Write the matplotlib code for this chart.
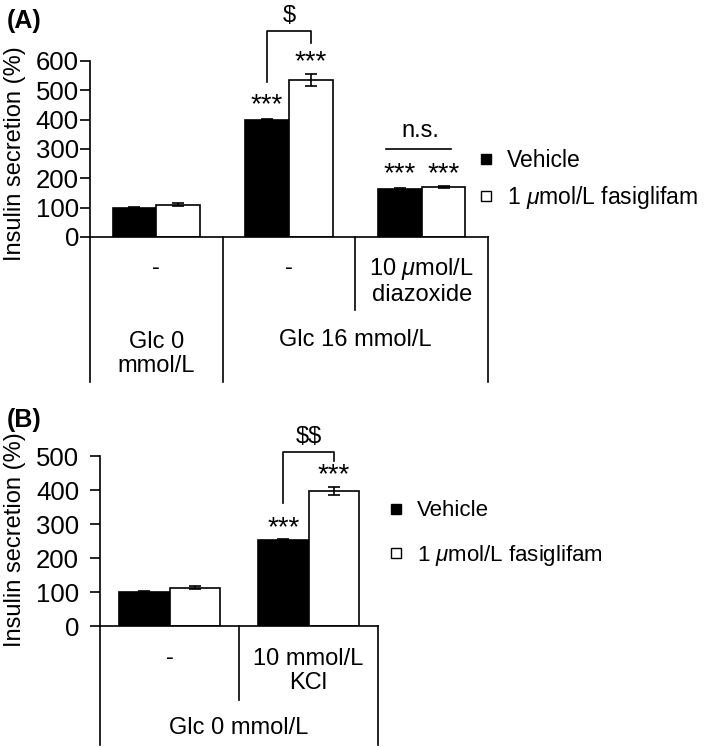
import matplotlib
matplotlib.use("Agg")
import matplotlib.pyplot as plt
from matplotlib.lines import Line2D

plt.rcParams['font.family'] = ['Liberation Sans', 'DejaVu Sans']
plt.rcParams['mathtext.fontset'] = 'custom'
plt.rcParams['mathtext.rm'] = 'Liberation Sans'
plt.rcParams['mathtext.it'] = 'Liberation Sans:italic'

# ---------------- data ----------------
a_groups = ["-", "-", "10 $\\mu$mol/L\ndiazoxide"]
a_vehicle = [100, 400, 165]
a_vehicle_err = [3, 2, 2]
a_fasi = [110, 535, 170]
a_fasi_err = [6, 19, 3]
a_stars_vehicle = ["", "***", "***"]
a_stars_fasi = ["", "***", "***"]
a_ticks = [0, 100, 200, 300, 400, 500, 600]

b_groups = ["-", "10 mmol/L\nKCl"]
b_vehicle = [100, 253]
b_vehicle_err = [3, 3]
b_fasi = [113, 397]
b_fasi_err = [5, 13]
b_stars_vehicle = ["", "***"]
b_stars_fasi = ["", "***"]
b_ticks = [0, 100, 200, 300, 400, 500]

legend_labels = ["Vehicle", "1 $\\mu$mol/L fasiglifam"]
ylabel = "Insulin secretion (%)"

W, H = 709, 747
fig = plt.figure(figsize=(W / 100, H / 100), dpi=100)


def px_axes(left, right, top, bottom):
    return fig.add_axes([left / W, 1 - bottom / H, (right - left) / W, (bottom - top) / H])


LW = 1.2
FS = 17
TFS = 18.5
SFS = 20


def style_axes(ax, ticks, ylim, n):
    ax.set_ylim(*ylim)
    ax.set_xlim(-0.5, n - 0.5)
    ax.set_yticks(ticks)
    ax.set_xticks([])
    for s in ["top", "right"]:
        ax.spines[s].set_visible(False)
    for s in ["left", "bottom"]:
        ax.spines[s].set_linewidth(LW)
    ax.tick_params(axis='y', length=7, width=LW, labelsize=TFS, pad=1)


def bars(ax, veh, veh_err, fas, fas_err, width):
    x = list(range(len(veh)))
    xv = [i - width / 2 for i in x]
    xf = [i + width / 2 for i in x]
    ax.bar(xv, veh, width, color='black', edgecolor='black', linewidth=LW,
           yerr=veh_err, error_kw=dict(ecolor='black', capsize=4, elinewidth=LW, capthick=LW))
    ax.bar(xf, fas, width, color='white', edgecolor='black', linewidth=LW,
           yerr=fas_err, error_kw=dict(ecolor='black', capsize=4, elinewidth=LW, capthick=LW))
    return xv, xf


def stars(ax, xs, vals, errs, labels, off):
    for xi, v, e, s in zip(xs, vals, errs, labels):
        if s:
            ax.annotate(s, xy=(xi, v + e), xytext=(0, off), textcoords='offset points',
                        ha='center', va='center', fontsize=SFS, annotation_clip=False)


# ---------------- Panel A ----------------
axA = px_axes(90, 488, 61, 237)
style_axes(axA, a_ticks, (0, 600), 3)
wA = 0.33
xvA, xfA = bars(axA, a_vehicle, a_vehicle_err, a_fasi, a_fasi_err, wA)
stars(axA, xvA, a_vehicle, a_vehicle_err, a_stars_vehicle, 10)
stars(axA, xfA, a_fasi, a_fasi_err, a_stars_fasi, 9)

# significance bracket "$"
axA.plot([xvA[1], xvA[1], xfA[1], xfA[1]], [528, 702, 702, 661], color='black',
         lw=LW, clip_on=False)
axA.text((xvA[1] + xfA[1]) / 2, 754, r"\$", ha='center', va='center', fontsize=FS)
# n.s. line
axA.plot([xvA[2] - 0.105, xfA[2] + 0.055], [300, 300], color='black', lw=LW, clip_on=False)
axA.text((xvA[2] + xfA[2]) / 2 - 0.01, 360, "n.s.", ha='center', va='center', fontsize=FS)

trA = axA.get_xaxis_transform()
hA = 176.0
for xl, depth in [(-0.5, 145), (0.5, 145), (1.5, 73), (2.5, 145)]:
    axA.plot([xl, xl], [0, -depth / hA], color='black', lw=LW, transform=trA, clip_on=False)
for i, g in enumerate(a_groups):
    yc = -31 / hA if g == "-" else -(281 - 237) / hA
    axA.text(i, yc, g, transform=trA, ha='center', va='center', fontsize=FS,
             linespacing=1.1)
axA.text(0, -(354 - 237) / hA, "Glc 0\nmmol/L", transform=trA, ha='center', va='center',
         fontsize=FS, linespacing=1.1)
axA.text(1.5, -(340 - 237) / hA, "Glc 16 mmol/L", transform=trA, ha='center', va='center',
         fontsize=FS)

axA.set_ylabel(ylabel, fontsize=17)
axA.yaxis.set_label_coords((26 - 90) / 398, (237 - 154) / hA)

handles = [Line2D([], [], marker='s', linestyle='none', markersize=7,
                  markerfacecolor='black', markeredgecolor='black', markeredgewidth=1.0),
           Line2D([], [], marker='s', linestyle='none', markersize=7,
                  markerfacecolor='white', markeredgecolor='black', markeredgewidth=1.0)]
fig.legend(handles, legend_labels, loc='center left', frameon=False, fontsize=16.5,
           bbox_to_anchor=(478 / W, 1 - 180 / H), handlelength=0.7, handletextpad=0.55,
           labelspacing=0.5, borderpad=0, borderaxespad=0)

fig.text(7 / W, 1 - 21 / H, "(A)", fontsize=18, fontweight='bold', ha='left', va='center')

# ---------------- Panel B ----------------
axB = px_axes(100, 378, 456, 626)
style_axes(axB, b_ticks, (0, 500), 2)
axB.tick_params(axis='y', pad=8)
wB = 0.36
xvB, xfB = bars(axB, b_vehicle, b_vehicle_err, b_fasi, b_fasi_err, wB)
stars(axB, xvB, b_vehicle, b_vehicle_err, b_stars_vehicle, 8)
stars(axB, xfB, b_fasi, b_fasi_err, b_stars_fasi, 8)

axB.plot([xvB[1], xvB[1], xfB[1], xfB[1]], [362, 512, 512, 485], color='black',
         lw=LW, clip_on=False)
axB.text((xvB[1] + xfB[1]) / 2, 556, r"\$\$", ha='center', va='center', fontsize=FS)

trB = axB.get_xaxis_transform()
hB = 170.0
for xl, depth in [(-0.5, 119), (0.5, 74), (1.5, 119)]:
    axB.plot([xl, xl], [0, -depth / hB], color='black', lw=LW, transform=trB, clip_on=False)
for i, g in enumerate(b_groups):
    yc = -(658 - 626) / hB if g == "-" else -(671 - 626) / hB
    axB.text(i, yc, g, transform=trB, ha='center', va='center', fontsize=FS,
             linespacing=1.1)
axB.text(0.5, -(728 - 626) / hB, "Glc 0 mmol/L", transform=trB, ha='center', va='center',
         fontsize=FS)

axB.set_ylabel(ylabel, fontsize=17)
axB.yaxis.set_label_coords((26 - 100) / 278, (626 - 540) / hB)

handlesB = [Line2D([], [], marker='s', linestyle='none', markersize=7,
                   markerfacecolor='black', markeredgecolor='black', markeredgewidth=1.0),
            Line2D([], [], marker='s', linestyle='none', markersize=7,
                   markerfacecolor='white', markeredgecolor='black', markeredgewidth=1.0)]
fig.legend(handlesB, legend_labels, loc='center left', frameon=False, fontsize=16,
           bbox_to_anchor=(388 / W, 1 - 534 / H), handlelength=0.7, handletextpad=0.6,
           labelspacing=0.95, borderpad=0, borderaxespad=0)

fig.text(7 / W, 1 - 420 / H, "(B)", fontsize=18, fontweight='bold', ha='left', va='center')

fig.savefig("out.png", dpi=100)
